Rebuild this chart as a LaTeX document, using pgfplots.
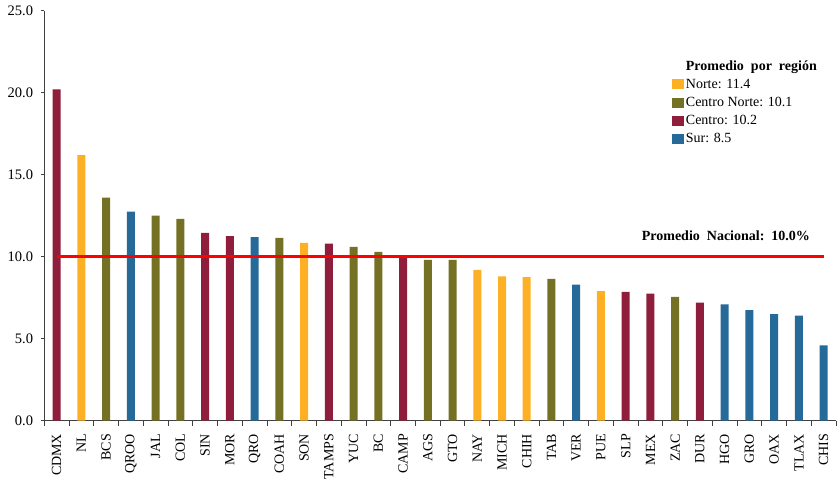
\documentclass[border=0pt]{standalone}
\usepackage{pgfplots}
\pgfplotsset{compat=1.18}
\usepackage{fontspec}
\setmainfont{Liberation Serif}

\definecolor{norte}{RGB}{253,176,35}
\definecolor{cnorte}{RGB}{116,112,36}
\definecolor{centro}{RGB}{143,29,60}
\definecolor{sur}{RGB}{38,106,153}

\begin{document}
\begin{tikzpicture}
\useasboundingbox (0,0) rectangle (839pt,483pt);
\begin{axis}[
  at={(44.3pt,62.3pt)}, anchor=south west,
  scale only axis, width=791.7pt, height=410pt,
  xmin=-0.5, xmax=31.5, ymin=0, ymax=25,
  axis lines=left, axis line style={-, black!75, line width=0.8pt},
  ybar, bar width=8pt,
  every axis plot/.append style={bar shift=0pt},
  xtick={0,...,31},
  xticklabels={CDMX,NL,BCS,QROO,JAL,COL,SIN,MOR,QRO,COAH,SON,TAMPS,YUC,BC,CAMP,AGS,GTO,NAY,MICH,CHIH,TAB,VER,PUE,SLP,MEX,ZAC,DUR,HGO,GRO,OAX,TLAX,CHIS},
  major x tick style={draw=none},
  minor xtick={-0.5,0.5,...,31.5},
  minor x tick style={black!75, line width=0.8pt},
  minor tick length=5pt,
  ytick={0,5,...,25},
  major y tick style={black!75, line width=0.8pt},
  major tick length=3pt,
  tick align=outside,
  yticklabel style={/pgf/number format/.cd, fixed, fixed zerofill, precision=1, /tikz/.cd, font=\fontsize{14.5}{16}\selectfont},
  /pgf/number format/assume math mode=true,
  xticklabel style={yshift=-10pt, rotate=90, anchor=east, font=\fontsize{14}{16}\selectfont, inner sep=0pt},
  yticklabel style={inner sep=0pt, xshift=-8pt},
  legend style={at={(0.7925,0.884)}, anchor=north west, draw=none, fill=none,
    font=\fontsize{14}{16}\selectfont, inner sep=0pt, row sep=3.4pt,
    /tikz/every even column/.style={column sep=5.5pt}},
  legend cell align=left,
  legend image code/.code={\fill[#1] (0pt,-5pt) rectangle (12pt,5pt);},
  clip=false,
]
\addlegendimage{empty legend}
\addlegendentry{\textbf{Promedio\ \ por\ \ región}}
% Norte
\addplot[fill=norte, draw=none] coordinates {
  (1,16.2) (10,10.85) (17,9.2) (18,8.8) (19,8.75) (22,7.9)
};
\addlegendentry{Norte: 11.4}
% Centro Norte
\addplot[fill=cnorte, draw=none] coordinates {
  (2,13.6) (4,12.5) (5,12.3) (9,11.15) (12,10.6) (13,10.3) (15,9.8) (16,9.8) (20,8.65) (25,7.55)
};
\addlegendentry{Centro Norte: 10.1}
% Centro
\addplot[fill=centro, draw=none] coordinates {
  (0,20.2) (6,11.45) (7,11.25) (11,10.8) (14,10.0) (23,7.85) (24,7.75) (26,7.2)
};
\addlegendentry{Centro: 10.2}
% Sur
\addplot[fill=sur, draw=none] coordinates {
  (3,12.75) (8,11.2) (21,8.3) (27,7.1) (28,6.75) (29,6.5) (30,6.4) (31,4.6)
};
\addlegendentry{Sur: 8.5}
% national average
\addplot[sharp plot, red, line width=3.5pt, forget plot] coordinates {(0,10) (31,10)};
\node[font=\fontsize{14}{16}\selectfont\bfseries] at (axis cs:27.05,11.3) {Promedio\ \ Nacional:\ \ 10.0\%};
\end{axis}
\end{tikzpicture}
\end{document}
